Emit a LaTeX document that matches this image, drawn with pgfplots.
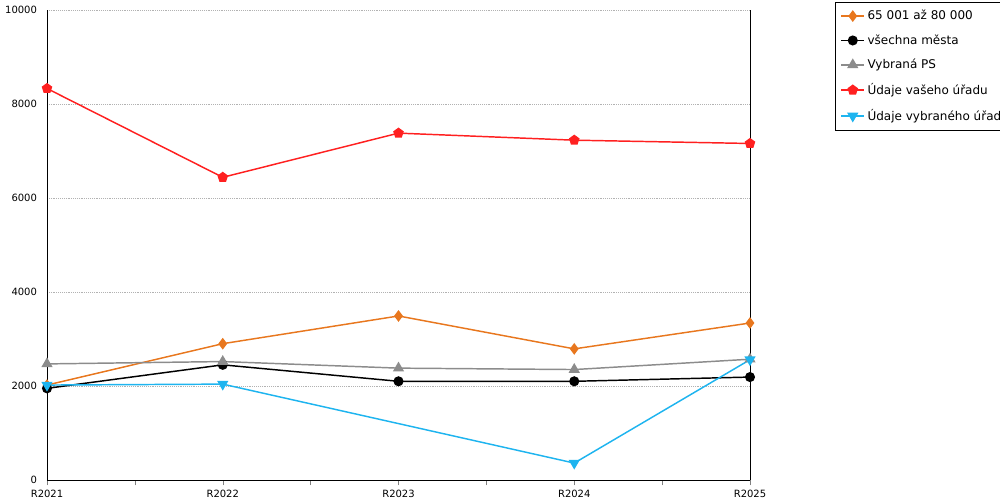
\documentclass[border=0pt]{standalone}
\usepackage{pgfplots}
\pgfplotsset{compat=1.18}
\usepackage{fontspec}
\setmainfont{DejaVu Sans}
\usetikzlibrary{shapes.geometric}
\definecolor{cor}{HTML}{E8771E}
\definecolor{cgr}{HTML}{8C8C8C}
\definecolor{cre}{HTML}{FF2020}
\definecolor{cbl}{HTML}{1EB4EF}
\begin{document}
\begin{tikzpicture}
\path[use as bounding box] (0,0) rectangle (750pt,375pt);
\begin{axis}[at={(35.25pt,15pt)},anchor=south west,
  scale only axis, width=527.25pt, height=352.5pt,
  xmin=0,xmax=4,ymin=0,ymax=10000,
  axis x line*=bottom, axis y line*=left,
  axis line style={-},
  xtick={0,1,2,3,4}, xticklabels={R2021,R2022,R2023,R2024,R2025},
  minor xtick={0.5,1.5,2.5,3.5},
  ytick={0,2000,4000,6000,8000,10000},
  scaled y ticks=false, yticklabel style={/pgf/number format/1000 sep={}},
  /pgf/number format/assume math mode=true,
  tick label style={font=\fontsize{7.5}{8}\selectfont},
  tick align=outside, major tick length=4pt, minor tick length=4pt,
  ytick style={draw=none},
  ymajorgrids, grid style={densely dotted,gray!60},
  clip=false,
  legend style={at={(1.121,1.017)},anchor=north west,draw=black,
    font=\fontsize{9}{10}\selectfont,row sep=5.6pt,inner sep=4pt,
    legend cell align=left},
  every axis plot/.append style={line width=1.1pt},
]
\addplot[cor,mark=diamond*,mark size=3.5pt] coordinates {(0,2020)(1,2900)(2,3490)(3,2790)(4,3340)};
\addlegendentry{65 001 až 80 000}
\addplot[black,mark=*,mark size=3.2pt] coordinates {(0,1950)(1,2450)(2,2100)(3,2100)(4,2190)};
\addlegendentry{všechna města}
\addplot[cgr,mark=triangle*,mark size=3.8pt] coordinates {(0,2470)(1,2520)(2,2380)(3,2350)(4,2570)};
\addlegendentry{Vybraná PS}
\addplot[cre,mark=pentagon*,mark size=3.5pt] coordinates {(0,8330)(1,6440)(2,7380)(3,7230)(4,7160)};
\addlegendentry{Údaje vašeho úřadu}
\addplot[cbl,mark=triangle*,mark size=3.8pt,mark options={rotate=180}] coordinates {(0,2020)(1,2040)(3,360)(4,2560)};
\addlegendentry{Údaje vybraného úřadu}
\draw (axis cs:4,0) -- (axis cs:4,10000);
\end{axis}
\end{tikzpicture}
\end{document}
